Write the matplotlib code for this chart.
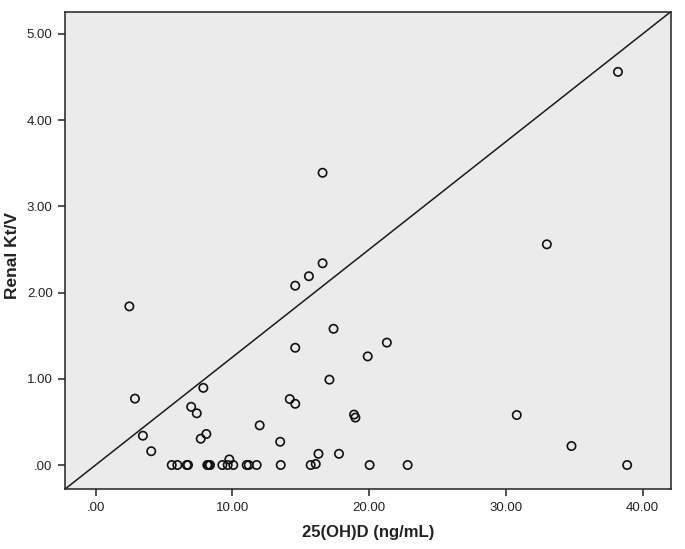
import numpy as np
import matplotlib
matplotlib.use("Agg")
import matplotlib.pyplot as plt

plt.rcParams['font.family'] = ['Liberation Sans', 'DejaVu Sans']

# 25(OH)D values and renal Kt/V
vitd = [38.2, 16.6, 33.0, 16.6, 15.6, 14.6, 2.47, 17.4, 21.3, 14.6,
        19.9, 17.1, 7.88, 2.88, 14.2, 14.6, 6.99, 7.40, 18.9, 19.0,
        30.8, 12.0, 8.1, 3.46, 7.69, 13.5, 34.8, 4.07, 16.3, 17.8,
        9.78, 16.1,
        5.57, 5.98, 6.67, 6.76, 8.17, 8.27, 8.37, 9.27, 9.66, 10.07,
        11.05, 11.2, 11.78, 13.54, 15.73, 20.04, 22.82, 38.87]
ktv = [4.56, 3.39, 2.56, 2.34, 2.19, 2.08, 1.84, 1.58, 1.42, 1.36,
       1.26, 0.99, 0.895, 0.77, 0.765, 0.71, 0.675, 0.60, 0.585, 0.55,
       0.58, 0.46, 0.36, 0.34, 0.305, 0.27, 0.22, 0.16, 0.13, 0.13,
       0.065, 0.012,
       0, 0, 0, 0, 0, 0, 0, 0, 0, 0,
       0, 0, 0, 0, 0, 0, 0, 0]

xticks = [0, 10, 20, 30, 40]
yticks = [0, 1, 2, 3, 4, 5]
xlim = (-2.23, 42.1)
ylim = (-0.28, 5.26)
ref_slope = 0.125

fig = plt.figure(figsize=(6.85, 5.49), dpi=100)
ax = fig.add_axes([0.095, 0.109, 0.885, 0.87])
ax.set_facecolor('#ebebeb')

# reference line
lx = np.array(xlim)
ax.plot(lx, ref_slope * lx, color='#1a1a1a', lw=1.1, zorder=2)

ax.scatter(vitd, ktv, s=36, facecolors='none', edgecolors='#111111',
           linewidths=1.2, zorder=3)

ax.set_xlim(*xlim)
ax.set_ylim(*ylim)
ax.set_xticks(xticks)
ax.set_yticks(yticks)
ax.set_xticklabels(['.00' if v == 0 else f'{v:.2f}' for v in xticks])
ax.set_yticklabels(['.00' if v == 0 else f'{v:.2f}' for v in yticks])
ax.tick_params(direction='out', length=5, width=1.1, color='#222222',
               labelsize=9.5, labelcolor='#222222', pad=4)

for sp in ax.spines.values():
    sp.set_linewidth(1.1)
    sp.set_color('#222222')

ax.set_xlabel('25(OH)D (ng/mL)', fontsize=12, fontweight='bold',
              color='#222222')
ax.set_ylabel('Renal Kt/V', fontsize=12.5, fontweight='bold',
              color='#222222')
ax.xaxis.set_label_coords(0.5, -0.076)
ax.yaxis.set_label_coords(-0.074, 0.49)

fig.savefig('out.png', dpi=100, facecolor='white')
